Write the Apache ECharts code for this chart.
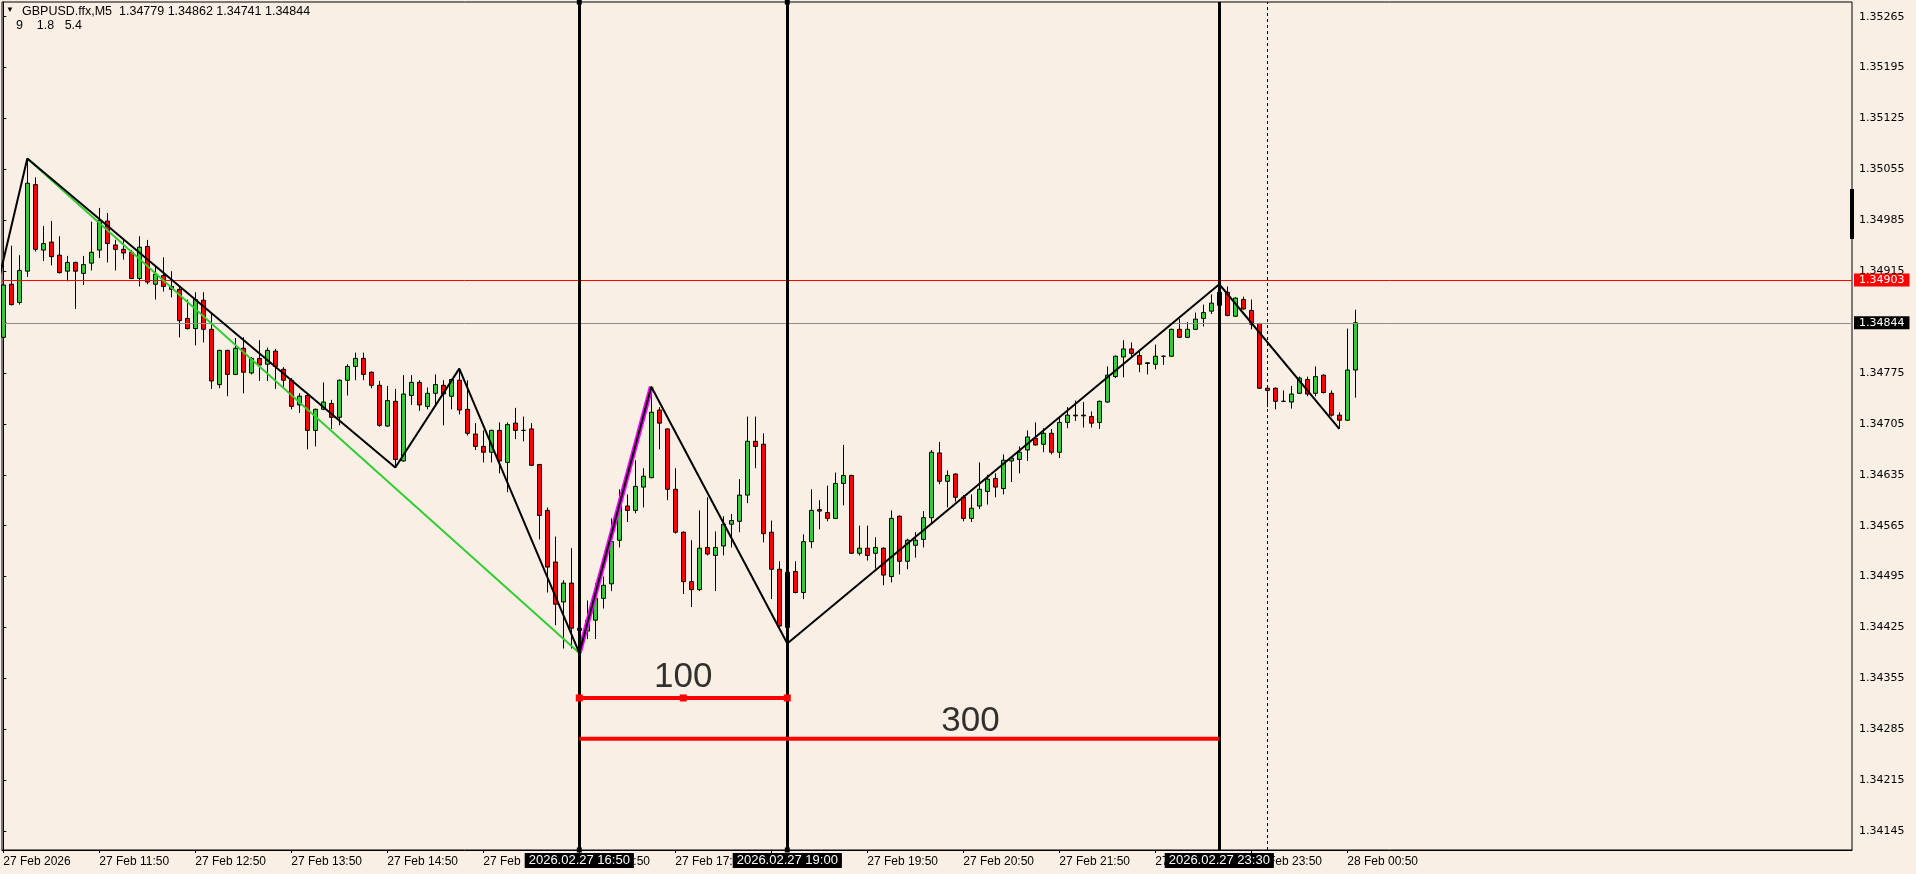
<!DOCTYPE html>
<html><head><meta charset="utf-8">
<script src="https://cdn.jsdelivr.net/npm/echarts@6/dist/echarts.min.js"></script>
<style>html,body{margin:0;padding:0;background:#F9EFE5;} #c{width:1916px;height:874px;}</style>
</head><body><div id="c"></div>
<script>
// ---------- DATA (GBPUSD.ffx, M5, 27 Feb 2026 10:50 -> 28 Feb 00:55) ----------
const open = [1.34824,1.34897,1.34872,1.34915,1.35034,1.34944,1.34955,1.34937,1.34915,1.34927,
1.34912,1.34926,1.34944,1.34984,1.34951,1.34945,1.34941,1.34905,1.34949,1.34897,
1.34909,1.34894,1.34890,1.34850,1.34836,1.34875,1.34835,1.34759,1.34806,1.34773,
1.34809,1.34775,1.34795,1.34787,1.34805,1.34780,1.34765,1.34731,1.34744,1.34696,
1.34725,1.34733,1.34714,1.34765,1.34784,1.34795,1.34776,1.34758,1.34702,1.34736,
1.34654,1.34744,1.34762,1.34729,1.34747,1.34758,1.34743,1.34765,1.34725,1.34691,
1.34674,1.34666,1.34696,1.34652,1.34706,1.34696,1.34698,1.34649,1.34586,1.34515,
1.34460,1.34486,1.34424,1.34420,1.34435,1.34465,1.34485,1.34545,1.34592,1.34586,
1.34618,1.34631,1.34724,1.34698,1.34615,1.34556,1.34488,1.34477,1.34535,1.34524,
1.34537,1.34567,1.34571,1.34607,1.34681,1.34677,1.34556,1.34505,1.34425,1.34502,
1.34473,1.34543,1.34587,1.34583,1.34575,1.34623,1.34634,1.34527,1.34534,1.34527,
1.34534,1.34495,1.34578,1.34516,1.34538,1.34546,1.34576,1.34665,1.34626,1.34636,
1.34604,1.34575,1.34592,1.34612,1.34630,1.34616,1.34654,1.34656,1.34669,1.34685,
1.34677,1.34692,1.34666,1.34707,1.34716,1.34717,1.34715,1.34707,1.34735,1.34770,
1.34797,1.34808,1.34799,1.34788,1.34787,1.34798,1.34798,1.34835,1.34824,1.34835,
1.34850,1.34860,1.34868,1.34886,1.34853,1.34876,1.34861,1.34843,1.34754,1.34754,
1.34736,1.34735,1.34747,1.34766,1.34747,1.34772,1.34747,1.34717,1.34710,1.34779];
const high = [1.34899,1.34950,1.34937,1.35070,1.35044,1.34977,1.34984,1.34963,1.34936,1.34928,
1.34936,1.34983,1.35002,1.34995,1.34958,1.34958,1.34944,1.34963,1.34958,1.34921,
1.34934,1.34915,1.34894,1.34876,1.34886,1.34886,1.34856,1.34807,1.34807,1.34823,
1.34824,1.34797,1.34820,1.34810,1.34808,1.34783,1.34768,1.34747,1.34747,1.34726,
1.34762,1.34738,1.34766,1.34787,1.34803,1.34803,1.34777,1.34764,1.34757,1.34753,
1.34772,1.34772,1.34765,1.34755,1.34773,1.34765,1.34767,1.34781,1.34765,1.34706,
1.34696,1.34697,1.34707,1.34707,1.34727,1.34715,1.34706,1.34650,1.34590,1.34550,
1.34490,1.34534,1.34425,1.34462,1.34486,1.34495,1.34575,1.34615,1.34608,1.34655,
1.34644,1.34756,1.34728,1.34699,1.34644,1.34557,1.34545,1.34586,1.34604,1.34557,
1.34578,1.34581,1.34629,1.34715,1.34715,1.34692,1.34572,1.34516,1.34502,1.34516,
1.34553,1.34615,1.34600,1.34620,1.34638,1.34676,1.34635,1.34565,1.34565,1.34549,
1.34535,1.34586,1.34579,1.34547,1.34556,1.34585,1.34669,1.34680,1.34641,1.34637,
1.34607,1.34608,1.34652,1.34635,1.34637,1.34663,1.34658,1.34674,1.34696,1.34707,
1.34699,1.34698,1.34714,1.34728,1.34737,1.34735,1.34722,1.34737,1.34784,1.34799,
1.34820,1.34817,1.34805,1.34790,1.34814,1.34799,1.34836,1.34849,1.34845,1.34858,
1.34869,1.34883,1.34897,1.34894,1.34879,1.34880,1.34876,1.34844,1.34755,1.34755,
1.34751,1.34757,1.34770,1.34770,1.34784,1.34773,1.34751,1.34721,1.34836,1.34862];
const low = [1.34820,1.34868,1.34869,1.34907,1.34942,1.34929,1.34923,1.34912,1.34901,1.34863,
1.34896,1.34916,1.34933,1.34927,1.34916,1.34931,1.34904,1.34894,1.34897,1.34876,
1.34887,1.34879,1.34824,1.34835,1.34813,1.34817,1.34753,1.34754,1.34743,1.34772,
1.34747,1.34773,1.34764,1.34764,1.34753,1.34753,1.34725,1.34720,1.34670,1.34674,
1.34724,1.34698,1.34703,1.34744,1.34765,1.34765,1.34754,1.34701,1.34701,1.34645,
1.34653,1.34731,1.34723,1.34725,1.34731,1.34703,1.34725,1.34718,1.34689,1.34669,
1.34652,1.34652,1.34637,1.34611,1.34684,1.34681,1.34647,1.34546,1.34473,1.34428,
1.34396,1.34396,1.34390,1.34409,1.34409,1.34451,1.34475,1.34535,1.34570,1.34582,
1.34590,1.34630,1.34670,1.34600,1.34554,1.34471,1.34453,1.34475,1.34524,1.34475,
1.34524,1.34535,1.34556,1.34596,1.34644,1.34542,1.34464,1.34426,1.34403,1.34472,
1.34464,1.34534,1.34560,1.34571,1.34574,1.34593,1.34526,1.34524,1.34517,1.34506,
1.34483,1.34487,1.34498,1.34505,1.34521,1.34535,1.34568,1.34622,1.34590,1.34598,
1.34571,1.34570,1.34588,1.34594,1.34604,1.34608,1.34625,1.34637,1.34654,1.34675,
1.34666,1.34663,1.34658,1.34699,1.34709,1.34700,1.34700,1.34698,1.34734,1.34768,
1.34769,1.34798,1.34776,1.34773,1.34780,1.34786,1.34797,1.34823,1.34823,1.34834,
1.34839,1.34856,1.34867,1.34853,1.34852,1.34862,1.34835,1.34753,1.34728,1.34725,
1.34735,1.34726,1.34746,1.34743,1.34743,1.34747,1.34715,1.34698,1.34709,1.34741];
const close = [1.34896,1.34869,1.34916,1.35036,1.34945,1.34953,1.34935,1.34913,1.34927,1.34915,
1.34924,1.34941,1.34985,1.34953,1.34945,1.34940,1.34905,1.34948,1.34900,1.34911,
1.34894,1.34890,1.34847,1.34836,1.34876,1.34835,1.34764,1.34806,1.34773,1.34809,
1.34776,1.34795,1.34786,1.34806,1.34784,1.34765,1.34729,1.34743,1.34696,1.34725,
1.34735,1.34714,1.34765,1.34784,1.34795,1.34773,1.34758,1.34703,1.34737,1.34656,
1.34746,1.34762,1.34731,1.34747,1.34759,1.34746,1.34766,1.34724,1.34692,1.34674,
1.34666,1.34696,1.34654,1.34704,1.34696,1.34696,1.34648,1.34579,1.34508,1.34457,
1.34486,1.34424,1.34421,1.34435,1.34465,1.34483,1.34543,1.34593,1.34586,1.34619,
1.34633,1.34721,1.34706,1.34615,1.34556,1.34488,1.34477,1.34534,1.34526,1.34535,
1.34567,1.34572,1.34607,1.34681,1.34674,1.34554,1.34505,1.34427,1.34501,1.34473,
1.34543,1.34586,1.34585,1.34575,1.34623,1.34634,1.34527,1.34534,1.34524,1.34535,
1.34497,1.34575,1.34516,1.34545,1.34545,1.34576,1.34666,1.34626,1.34634,1.34604,
1.34575,1.34589,1.34615,1.34629,1.34618,1.34655,1.34658,1.34666,1.34687,1.34676,
1.34692,1.34666,1.34707,1.34717,1.34717,1.34716,1.34706,1.34736,1.34772,1.34798,
1.34808,1.34802,1.34787,1.34789,1.34798,1.34798,1.34835,1.34824,1.34835,1.34849,
1.34858,1.34871,1.34886,1.34854,1.34878,1.34863,1.34842,1.34754,1.34751,1.34736,
1.34736,1.34746,1.34768,1.34746,1.34770,1.34748,1.34717,1.34710,1.34779,1.34844];

// axis ticks
const xTickIdx = [0,12,24,36,48,60,72,84,96,108,120,132,144,156,168];
const xTickLabels = ['27 Feb 2026','27 Feb 11:50','27 Feb 12:50','27 Feb 13:50','27 Feb 14:50',
  '27 Feb 15:50','27 Feb 16:50','27 Feb 17:50','27 Feb 18:50','27 Feb 19:50','27 Feb 20:50',
  '27 Feb 21:50','27 Feb 22:50','27 Feb 23:50','28 Feb 00:50'];
const yTicks = [1.34145,1.34215,1.34285,1.34355,1.34425,1.34495,1.34565,1.34635,1.34705,
  1.34775,1.34845,1.34915,1.34985,1.35055,1.35125,1.35195,1.35265];

// header
const symbolName = 'GBPUSD.ffx,M5';
const zigzagParams = [9, 1.8, 5.4];

// zigzag pivots (candle index, H/L) and the leg coming in from the left edge
const zigzagLead = [-0.5, 1.34906];
const zigzagPivots = [[3,'H'],[49,'L'],[57,'H'],[72,'L'],[81,'H'],[98,'L'],[152,'H'],[167,'L']];
const greenPivots = [[3,'H'],[72,'L']];
const purplePivots = [[72,'L'],[81,'H']];

// vertical time lines
const vlineIdx = [72, 98, 152];
const vlineLabels = ['2026.02.27 16:50','2026.02.27 19:00','2026.02.27 23:30'];
const separatorIdx = [158];

// horizontal price lines
const alertLevel = 1.34903;

// measurement rulers
const measureFrom = [72, 72];
const measureTo = [98, 152];
const measurePrice = [1.34328, 1.34272];
const measureText = ['100', '300'];
const measureTextPos = [[85, 1.34357], [120.9, 1.34296]];

// ---------- CHART ----------
const N = open.length;
const candleData = open.map((o, i) => [i, o, close[i], low[i], high[i]]);
const pv = ([i, t]) => [i, t === 'H' ? high[i] : low[i]];
const zigzagData = [zigzagLead].concat(zigzagPivots.map(pv));
const bid = close[N - 1];
const last = [open[N-1], high[N-1], low[N-1], close[N-1]].map(v => v.toFixed(5)).join(' ');
const FONT = 'Liberation Sans';

const chart = echarts.init(document.getElementById('c'), null, {renderer: 'canvas'});
const option = {
  animation: false,
  backgroundColor: '#F9EFE5',
  title: [
    {text: '\u25BC', left: 6, top: 6, padding: 0, textStyle: {fontSize: 8, color: '#000', fontWeight: 'normal'}},
    {text: symbolName + '  ' + last, left: 22, top: 5, padding: 0,
      textStyle: {fontSize: 12.5, color: '#000', fontWeight: 'normal', fontFamily: FONT}},
    {text: zigzagParams[0] + '    ' + zigzagParams[1] + '   ' + zigzagParams[2], left: 16, top: 19, padding: 0,
      textStyle: {fontSize: 12.5, color: '#000', fontWeight: 'normal', fontFamily: FONT}}
  ],
  grid: {left: 2, top: 2, width: 1850, height: 848, show: true, borderColor: '#000', borderWidth: 1},
  xAxis: {
    type: 'value', min: -0.1625, max: 231.0875,
    axisLine: {show: true, onZero: false, lineStyle: {color: '#000', width: 1}},
    axisTick: {show: true, length: 3, customValues: xTickIdx, lineStyle: {color: '#000'}},
    axisLabel: {show: true, customValues: xTickIdx, align: 'left', margin: 6, color: '#000',
      fontSize: 12, fontFamily: FONT, formatter: v => xTickLabels[xTickIdx.indexOf(v)]},
    splitLine: {show: false}
  },
  yAxis: {
    type: 'value', position: 'right', min: 1.341189, max: 1.352852, scale: true,
    axisLine: {show: true, lineStyle: {color: '#000', width: 1}},
    axisTick: {show: true, length: 3, customValues: yTicks, lineStyle: {color: '#000'}},
    axisLabel: {show: true, customValues: yTicks, margin: 7, color: '#000', fontSize: 11,
      fontFamily: 'DejaVu Sans', formatter: v => v.toFixed(5)},
    splitLine: {show: false}
  },
  graphic: [
    {type: 'rect', shape: {x: 1850, y: 189, width: 4, height: 50}, style: {fill: '#000'}, z: 10}
  ],
  series: [
    {
      type: 'candlestick', data: candleData, barWidth: 4, z: 2,
      itemStyle: {color: '#32CD32', color0: '#FF0000', borderColor: '#000', borderColor0: '#000',
        borderColorDoji: '#000', borderWidth: 1}
    },
    // price level lines (alert + bid)
    {type: 'line', data: [], z: 3,
      markLine: {
        silent: true, symbol: 'none', animation: false, precision: 5, z: 3,
        label: {show: true, position: 'end', distance: 2, color: '#fff', fontSize: 11,
          fontFamily: 'DejaVu Sans', padding: [1, 5], formatter: p => Number(p.value).toFixed(5)},
        data: [
          {yAxis: alertLevel, lineStyle: {color: '#FF0000', width: 1, type: 'solid'}, label: {backgroundColor: '#FF0000'}},
          {yAxis: bid, lineStyle: {color: '#8C8C8C', width: 1, type: 'solid'}, label: {backgroundColor: '#000'}}
        ]
      }},
    {type: 'line', data: greenPivots.map(pv), symbol: 'none', z: 3,
      lineStyle: {color: '#32CD32', width: 2}},
    {type: 'line', data: purplePivots.map(pv), symbol: 'none', z: 4,
      lineStyle: {color: '#FF00FF', width: 5}},
    {type: 'line', data: zigzagData, symbol: 'none', z: 5,
      lineStyle: {color: '#000', width: 2}},
    // vertical time lines (selected ones with end markers)
    {type: 'line', data: [], z: 6,
      markLine: {silent: true, animation: false, symbol: ['rect', 'rect'], symbolSize: 5, z: 6, precision: 5,
        lineStyle: {color: '#000', width: 3, type: 'solid'},
        itemStyle: {color: '#000'},
        label: {show: true, position: 'start', distance: 3, backgroundColor: '#000', color: '#fff',
          fontSize: 13, fontFamily: FONT, padding: [1, 4]},
        data: vlineIdx.slice(0, 2).map((x, k) => ({xAxis: x, label: {formatter: vlineLabels[k]}}))
      }},
    {type: 'line', data: [], z: 6,
      markLine: {silent: true, animation: false, symbol: 'none', z: 6, precision: 5,
        lineStyle: {color: '#000', width: 3, type: 'solid'},
        label: {show: true, position: 'start', distance: 3, backgroundColor: '#000', color: '#fff',
          fontSize: 13, fontFamily: FONT, padding: [1, 4]},
        data: vlineIdx.slice(2).map((x, k) => ({xAxis: x, label: {formatter: vlineLabels[k + 2]}}))
          .concat(separatorIdx.map(x => ({xAxis: x, lineStyle: {width: 1, type: [3, 3]}, label: {show: false}})))
      }},
    // measurement rulers
    {type: 'line', z: 7, symbol: 'rect', symbolSize: 7, showAllSymbol: true,
      itemStyle: {color: '#FF0000'}, lineStyle: {color: '#FF0000', width: 4},
      data: [[measureFrom[0], measurePrice[0]], [(measureFrom[0] + measureTo[0]) / 2, measurePrice[0]], [measureTo[0], measurePrice[0]]]},
    {type: 'line', z: 7, symbol: 'none', lineStyle: {color: '#FF0000', width: 4},
      data: [[measureFrom[1], measurePrice[1]], [measureTo[1], measurePrice[1]]]},
    {type: 'scatter', z: 8, symbolSize: 1, itemStyle: {color: 'rgba(0,0,0,0)'},
      label: {show: true, position: 'inside', color: '#000', fontSize: 35, fontFamily: FONT,
        formatter: p => measureText[p.dataIndex]},
      data: measureTextPos}
  ]
};
chart.setOption(option);
</script></body></html>
